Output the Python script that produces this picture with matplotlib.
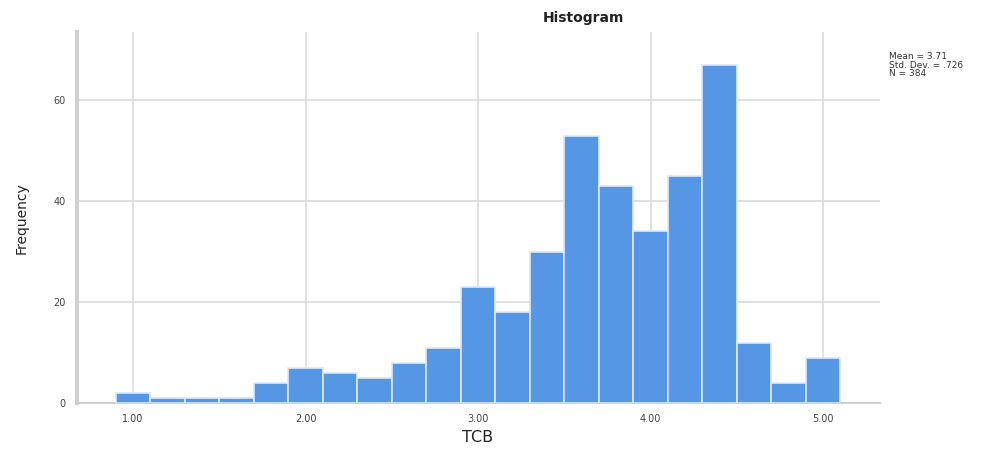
import matplotlib
matplotlib.use("Agg")
import matplotlib.pyplot as plt
import numpy as np

# TCB histogram: bin edges every 0.2 from 0.9 to 5.1
bin_edges = np.round(np.arange(0.9, 5.1001, 0.2), 2)
counts = [2, 1, 1, 1, 4, 7, 6, 5, 8, 11, 23, 18, 30, 53, 43, 34, 45, 67, 12, 4, 9]
x_ticks = [1.0, 2.0, 3.0, 4.0, 5.0]
x_tick_labels = ["1.00", "2.00", "3.00", "4.00", "5.00"]
y_ticks = [0, 20, 40, 60]
stats_lines = ["Mean = 3.71", "Std. Dev. = .726", "N = 384"]

fig = plt.figure(figsize=(10, 4.51), dpi=100)
ax = fig.add_axes([0.077, 0.106, 0.803, 0.823])

ax.bar(bin_edges[:-1], counts, width=0.2, align="edge",
       color="#5596e5", edgecolor="#dce8f8", linewidth=1.2, zorder=3)

ax.set_xlim(0.675, 5.33)
ax.set_ylim(0, 73.5)
ax.set_xticks(x_ticks)
ax.set_xticklabels(x_tick_labels)
ax.set_yticks(y_ticks)

ax.grid(True, color="#dcdcdc", linewidth=1.2, zorder=0)
for side in ["top", "right"]:
    ax.spines[side].set_visible(False)
ax.spines["left"].set_color("#d0d0d0")
ax.spines["left"].set_linewidth(3)
ax.spines["bottom"].set_color("#c8c8c8")
ax.spines["bottom"].set_linewidth(1.2)
ax.tick_params(length=0, labelsize=7, colors="#444444", pad=8)

# axis titles placed in figure coordinates
fig.text(0.478, 0.031, "TCB", ha="center", va="center",
         fontsize=11.5, color="#222222")
fig.text(0.022, 0.517, "Frequency", ha="center", va="center",
         rotation=90, fontsize=10, color="#222222")
fig.text(0.583, 0.96, "Histogram", ha="center", va="center",
         fontsize=10, fontweight="bold", color="#222222")
fig.text(0.889, 0.885, "\n".join(stats_lines), ha="left", va="top",
         fontsize=6.5, color="#333333", linespacing=0.95)

fig.savefig("out.png", dpi=100)
